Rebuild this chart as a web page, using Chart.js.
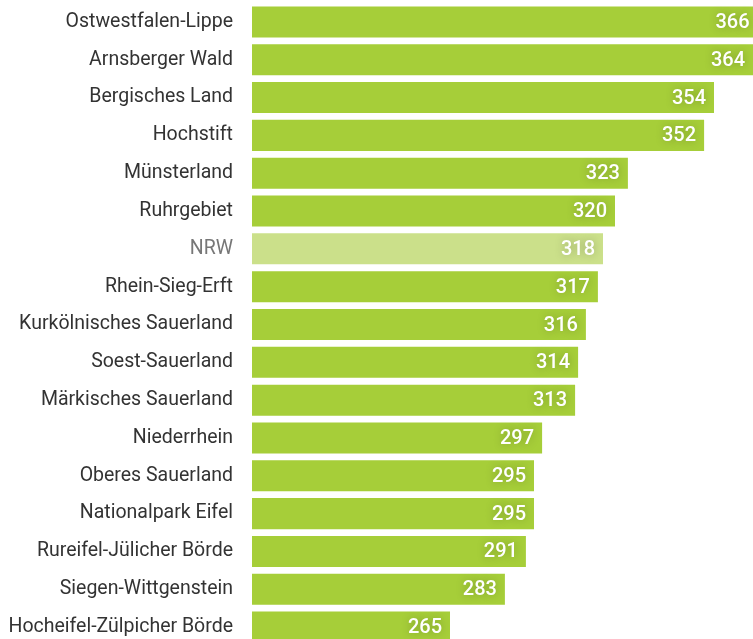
<!DOCTYPE html>
<html>
<head>
<meta charset="utf-8">
<script src="https://cdn.jsdelivr.net/npm/chart.js@4"></script>
<style>
  html, body { margin: 0; padding: 0; background: #fff; overflow: hidden; }
  #regionChart { display: block; width: 753px; height: 646px; }
</style>
</head>
<body>
<canvas id="regionChart" width="753" height="646"></canvas>
<script>
const regions = [
  'Ostwestfalen-Lippe', 'Arnsberger Wald', 'Bergisches Land', 'Hochstift',
  'Münsterland', 'Ruhrgebiet', 'NRW', 'Rhein-Sieg-Erft', 'Kurkölnisches Sauerland',
  'Soest-Sauerland', 'Märkisches Sauerland', 'Niederrhein', 'Oberes Sauerland',
  'Nationalpark Eifel', 'Rureifel-Jülicher Börde', 'Siegen-Wittgenstein',
  'Hocheifel-Zülpicher Börde'
];
// printed numbers
const values = [366, 364, 354, 352, 323, 320, 318, 317, 316, 314, 313, 297, 295, 295, 291, 283, 265];
// bar lengths as drawn in the original (they don't follow the printed numbers exactly)
const barLengths = [368.5, 367, 354, 350.7, 325.3, 321, 317, 315.3, 311.3, 308.7, 307.7, 296.7, 294, 294, 291.3, 284.3, 266];
const highlight = 'NRW';

const green = '#a6ce39';
const paleGreen = '#cbe08a';

// value labels inside the bar ends
const valueLabels = {
  id: 'valueLabels',
  afterDatasetsDraw(chart) {
    const ctx = chart.ctx;
    const meta = chart.getDatasetMeta(0);
    ctx.save();
    ctx.font = '500 20px Roboto';
    ctx.fillStyle = '#fff';
    ctx.textAlign = 'right';
    ctx.textBaseline = 'middle';
    ctx.shadowColor = 'rgba(0,0,0,0.25)';
    ctx.shadowBlur = 8;
    meta.data.forEach((bar, i) => {
      ctx.fillText(String(values[i]), bar.x - 8, bar.y + 1);
    });
    ctx.restore();
  }
};

new Chart(document.getElementById('regionChart'), {
  type: 'bar',
  data: {
    labels: regions,
    datasets: [{
      data: barLengths,
      backgroundColor: regions.map(r => r === highlight ? paleGreen : green),
      borderWidth: 0,
      barPercentage: 0.82,
      categoryPercentage: 1
    }]
  },
  options: {
    indexAxis: 'y',
    responsive: false,
    animation: false,
    layout: { padding: { top: 3, right: 0, bottom: 0, left: 0 } },
    plugins: {
      legend: { display: false },
      tooltip: { enabled: false }
    },
    scales: {
      x: {
        min: 200,
        max: 367,
        display: false
      },
      y: {
        border: { display: false },
        grid: { display: false, drawTicks: false },
        afterFit(scale) {
          scale.width = 252;
          // no extra top/bottom room for the labels
          scale.paddingTop = 0;
          scale.paddingBottom = 0;
        },
        ticks: {
          padding: 19,
          color: (c) => regions[c.index] === highlight ? '#777' : '#333',
          font: { family: 'Roboto', size: 19.5 }
        }
      }
    }
  },
  plugins: [valueLabels]
});
</script>
</body>
</html>
